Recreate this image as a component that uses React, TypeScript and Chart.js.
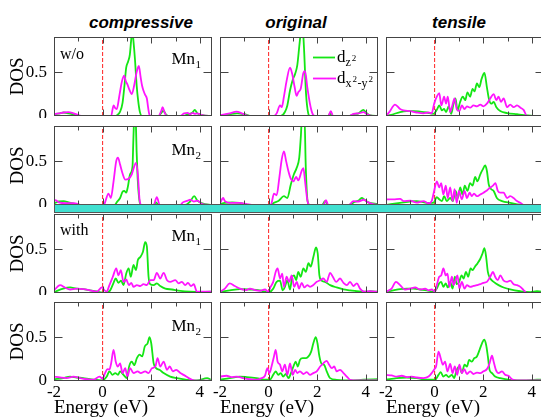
import React, { useEffect, useRef } from 'react';
import { Chart, registerables } from 'chart.js';

Chart.register(...registerables);

type Pair = [number, number];

// ---------- axis / tick definitions ----------
const X_MIN = -2;
const X_MAX = 4.5;
const Y_MIN = 0;
const Y_MAX = 0.9;
const X_LABEL_TICKS = [-2, 0, 2, 4];
const X_MARK_TICKS = [-1, 0, 1, 2, 3, 4];
const Y_LABEL_TICKS = [0, 0.5];
const Y_MARK_TICKS = [0.5];
const COLUMN_TITLES = ['compressive', 'original', 'tensile'];
const SERIES_NAMES = ['d_z2', 'd_x2-y2'];

// ---------- data: [energy (eV), DOS] ----------
// compressive, w/o, Mn1
const CW_M1_Z: Pair[] = [[-2,0.02],[-1.75,0.03],[-1.6,0.04],[-1.4,0.03],[-1.1,0.01],[-0.9,0],[0.5,0],[0.6,0.01],[0.72,0.05],[0.82,0.15],[0.9,0.35],[0.97,0.55],[1.05,0.62],[1.12,0.7],[1.17,0.85],[1.22,0.98],[1.27,0.85],[1.33,0.65],[1.4,0.35],[1.46,0.18],[1.53,0.05],[1.62,0],[2.3,0],[2.4,0.03],[2.5,0.06],[2.6,0.02],[2.7,0],[3.3,0],[3.5,0.02],[3.7,0.04],[3.79,0.07],[3.9,0.03],[4.1,0.01],[4.5,0]];
const CW_M1_X: Pair[] = [[-2,0.02],[-1.8,0.03],[-1.6,0.04],[-1.4,0.045],[-1.2,0.03],[-1.0,0.01],[-0.85,0],[0.35,0],[0.45,0.12],[0.52,0.09],[0.58,0.08],[0.7,0.25],[0.8,0.4],[0.89,0.46],[0.95,0.4],[1.02,0.36],[1.1,0.3],[1.2,0.25],[1.3,0.35],[1.4,0.5],[1.49,0.57],[1.56,0.45],[1.62,0.35],[1.68,0.29],[1.75,0.24],[1.82,0.2],[1.87,0.1],[1.92,0.02],[2.0,0],[2.3,0],[2.4,0.05],[2.47,0.1],[2.55,0.04],[2.65,0],[3.2,0],[3.35,0.03],[3.5,0.035],[3.6,0.02],[3.7,0.035],[3.8,0.025],[3.9,0.03],[4.0,0.02],[4.1,0.01],[4.5,0]];
// compressive, w/o, Mn2
const CW_M2_Z: Pair[] = [[-2,0.02],[-1.8,0.04],[-1.6,0.045],[-1.4,0.03],[-1.1,0.01],[-0.9,0],[0.5,0],[0.58,0.03],[0.72,0.08],[0.82,0.15],[0.89,0.16],[0.97,0.14],[1.04,0.21],[1.13,0.35],[1.23,0.44],[1.26,0.7],[1.29,0.95],[1.32,1.1],[1.36,1.0],[1.4,0.6],[1.44,0.31],[1.5,0.08],[1.55,0],[2.1,0],[2.2,0.03],[2.3,0],[3.4,0],[3.6,0.04],[3.77,0.1],[3.9,0.05],[4.1,0.02],[4.5,0]];
const CW_M2_X: Pair[] = [[-2,0.06],[-1.9,0.05],[-1.8,0.03],[-1.5,0.02],[-1.2,0.02],[-1.0,0.01],[-0.9,0],[0.05,0],[0.1,0.03],[0.24,0.13],[0.34,0.08],[0.45,0.27],[0.56,0.5],[0.63,0.54],[0.72,0.46],[0.83,0.35],[0.93,0.29],[1.07,0.3],[1.2,0.35],[1.3,0.44],[1.37,0.48],[1.45,0.35],[1.52,0.06],[1.6,0],[2.1,0],[2.23,0.09],[2.35,0],[3.2,0],[3.3,0.03],[3.5,0.05],[3.6,0.06],[3.75,0.04],[3.9,0.05],[4.1,0.01],[4.5,0]];
// original, w/o, Mn1
const CO_M1_Z: Pair[] = [[-2,0.005],[-1.6,0.02],[-1.3,0.03],[-1.0,0.02],[-0.7,0],[0.5,0],[0.67,0.045],[0.77,0.12],[0.88,0.29],[0.99,0.41],[1.09,0.48],[1.18,0.58],[1.26,0.79],[1.32,0.95],[1.37,1.05],[1.42,0.95],[1.46,0.75],[1.54,0.25],[1.63,0.03],[1.7,0],[2.45,0],[2.53,0.03],[2.6,0],[3.3,0],[3.5,0.02],[3.7,0.03],[3.9,0.07],[4.0,0.04],[4.15,0.01],[4.5,0]];
const CO_M1_X: Pair[] = [[-2,0.01],[-1.6,0.03],[-1.32,0.05],[-1.1,0.03],[-0.8,0],[0.2,0],[0.33,0.03],[0.47,0.12],[0.54,0.1],[0.63,0.22],[0.74,0.4],[0.88,0.55],[0.97,0.48],[1.07,0.33],[1.15,0.23],[1.22,0.27],[1.32,0.31],[1.43,0.49],[1.5,0.51],[1.59,0.33],[1.7,0.14],[1.8,0.03],[1.9,0],[2.45,0],[2.56,0.056],[2.65,0],[3.3,0],[3.49,0.025],[3.7,0.03],[3.9,0.045],[4.05,0.02],[4.2,0.005],[4.5,0]];
// original, w/o, Mn2
const CO_M2_Z: Pair[] = [[-2,0.01],[-1.8,0.025],[-1.5,0.03],[-1.2,0.025],[-0.8,0],[0.1,0],[0.19,0.02],[0.4,0.045],[0.63,0.1],[0.77,0.08],[0.91,0.23],[1.04,0.35],[1.15,0.42],[1.26,0.54],[1.33,0.8],[1.38,1.05],[1.47,1.05],[1.53,0.42],[1.6,0.05],[1.68,0],[2.2,0],[2.32,0.045],[2.45,0],[3.3,0],[3.5,0.03],[3.7,0.05],[3.83,0.08],[3.95,0.06],[4.1,0.03],[4.5,0.01]];
const CO_M2_X: Pair[] = [[-2,0.02],[-1.87,0.08],[-1.8,0.045],[-1.6,0.025],[-1.2,0.025],[-0.9,0.01],[-0.7,0],[0.05,0],[0.12,0.02],[0.22,0.13],[0.33,0.11],[0.44,0.31],[0.54,0.52],[0.63,0.61],[0.72,0.5],[0.81,0.39],[0.91,0.3],[1.02,0.27],[1.13,0.32],[1.22,0.28],[1.36,0.39],[1.43,0.42],[1.5,0.27],[1.6,0.045],[1.68,0],[2.25,0],[2.36,0.055],[2.45,0],[3.3,0],[3.49,0.045],[3.7,0.04],[3.9,0.06],[4.1,0.03],[4.3,0.01],[4.5,0]];
// tensile, w/o, Mn1
const CT_M1_Z: Pair[] = [[-2,0],[-1.7,0.02],[-1.42,0.045],[-1.15,0.056],[-0.87,0.056],[-0.6,0.05],[-0.32,0.04],[-0.05,0.025],[0.09,0.07],[0.19,0.12],[0.3,0.065],[0.39,0.08],[0.47,0.045],[0.58,0.11],[0.68,0.025],[0.78,0.14],[0.86,0.2],[0.94,0.065],[1.05,0.16],[1.16,0.22],[1.26,0.18],[1.35,0.27],[1.46,0.22],[1.56,0.31],[1.64,0.28],[1.74,0.37],[1.84,0.33],[1.93,0.42],[2.05,0.49],[2.15,0.33],[2.23,0.2],[2.33,0.14],[2.43,0.16],[2.54,0.1],[2.7,0.056],[2.98,0.034],[3.39,0.02],[3.8,0.007],[4.2,0],[4.5,0]];
const CT_M1_X: Pair[] = [[-2,0],[-1.85,0.05],[-1.63,0.13],[-1.42,0.08],[-1.28,0.065],[-1.0,0.055],[-0.74,0.04],[-0.46,0.03],[-0.25,0.04],[-0.12,0.03],[-0.02,0.14],[0.09,0.22],[0.19,0.26],[0.28,0.12],[0.39,0.22],[0.47,0.14],[0.54,0.22],[0.64,0.045],[0.72,0.11],[0.82,0.2],[0.91,0.08],[1.02,0.056],[1.12,0.12],[1.23,0.08],[1.33,0.11],[1.46,0.095],[1.6,0.12],[1.74,0.11],[1.88,0.13],[2.01,0.11],[2.15,0.14],[2.29,0.2],[2.43,0.25],[2.54,0.18],[2.63,0.22],[2.73,0.16],[2.84,0.2],[2.98,0.1],[3.11,0.13],[3.25,0.1],[3.39,0.12],[3.53,0.095],[3.66,0.07],[3.8,0],[4.5,0]];
// tensile, w/o, Mn2
const CT_M2_Z: Pair[] = [[-2,0],[-1.42,0.025],[-0.74,0.045],[-0.3,0.025],[-0.05,0.025],[0.09,0.09],[0.19,0.065],[0.3,0.045],[0.39,0.1],[0.5,0.045],[0.64,0.08],[0.75,0.045],[0.86,0.16],[0.96,0.08],[1.05,0.2],[1.15,0.12],[1.24,0.22],[1.35,0.16],[1.46,0.25],[1.56,0.22],[1.67,0.32],[1.76,0.27],[1.88,0.35],[1.97,0.4],[2.08,0.45],[2.15,0.39],[2.23,0.23],[2.33,0.18],[2.43,0.16],[2.56,0.08],[2.77,0.045],[3.11,0.025],[3.7,0],[4.5,0]];
const CT_M2_X: Pair[] = [[-2,0.065],[-1.7,0.065],[-1.42,0.07],[-1.28,0.045],[-1.0,0.05],[-0.74,0.026],[-0.46,0.045],[-0.25,0.02],[-0.12,0.045],[-0.02,0.16],[0.09,0.27],[0.19,0.2],[0.27,0.25],[0.36,0.12],[0.46,0.22],[0.54,0.08],[0.64,0.2],[0.74,0.045],[0.82,0.18],[0.91,0.025],[1.0,0.16],[1.12,0.065],[1.23,0.16],[1.33,0.08],[1.44,0.14],[1.53,0.1],[1.62,0.13],[1.74,0.1],[1.88,0.12],[2.01,0.14],[2.15,0.165],[2.29,0.2],[2.4,0.22],[2.5,0.25],[2.6,0.16],[2.7,0.14],[2.84,0.14],[2.98,0.08],[3.11,0.1],[3.25,0.08],[3.39,0.045],[3.53,0.025],[3.66,0],[4.5,0]];
// compressive, with, Mn1
const CI_M1_Z: Pair[] = [[-2,0.01],[-1.62,0.05],[-1.34,0.063],[-1.07,0.05],[-0.79,0.045],[-0.52,0.03],[-0.17,0.014],[0.1,0],[0.31,0.03],[0.45,0.116],[0.54,0.165],[0.65,0.116],[0.76,0.14],[0.86,0.09],[0.97,0.22],[1.07,0.28],[1.16,0.185],[1.27,0.32],[1.37,0.26],[1.45,0.375],[1.55,0.41],[1.66,0.47],[1.75,0.58],[1.82,0.53],[1.89,0.185],[1.96,0.1],[2.1,0.09],[2.23,0.11],[2.37,0.08],[2.58,0.05],[2.85,0.04],[3.2,0.025],[3.61,0.015],[4.02,0.01],[4.43,0.014],[4.5,0.01]];
const CI_M1_X: Pair[] = [[-2,0.03],[-1.75,0.09],[-1.55,0.063],[-1.34,0.04],[-1.07,0.05],[-0.79,0.045],[-0.52,0.03],[-0.24,0.014],[-0.03,0.063],[0.08,0.03],[0.17,0.018],[0.28,0.09],[0.42,0.185],[0.56,0.28],[0.65,0.2],[0.75,0.26],[0.86,0.127],[0.97,0.155],[1.08,0.09],[1.18,0.116],[1.27,0.07],[1.41,0.09],[1.55,0.08],[1.68,0.1],[1.82,0.09],[1.96,0.146],[2.1,0.146],[2.23,0.23],[2.37,0.165],[2.51,0.23],[2.65,0.146],[2.78,0.127],[2.99,0.146],[3.13,0.11],[3.26,0.127],[3.4,0.09],[3.51,0.116],[3.64,0.08],[3.75,0.1],[3.88,0.014],[4.16,0.014],[4.5,0.014]];
// compressive, with, Mn2
const CI_M2_Z: Pair[] = [[-2,0.02],[-1.62,0.033],[-1.34,0.05],[-1.07,0.04],[-0.79,0.033],[-0.52,0.02],[-0.24,0.014],[0.0,0.006],[0.17,0.05],[0.28,0.11],[0.41,0.07],[0.52,0.09],[0.63,0.07],[0.72,0.11],[0.86,0.07],[1.0,0.033],[1.09,0.165],[1.2,0.22],[1.3,0.18],[1.41,0.26],[1.52,0.3],[1.63,0.28],[1.73,0.39],[1.85,0.43],[1.93,0.5],[2.0,0.43],[2.1,0.2],[2.2,0.146],[2.34,0.127],[2.51,0.09],[2.78,0.05],[3.06,0.033],[3.47,0.014],[3.88,0.006],[4.3,0.033],[4.45,0.014]];
const CI_M2_X: Pair[] = [[-2,0.05],[-1.75,0.04],[-1.48,0.033],[-1.2,0.05],[-0.93,0.033],[-0.65,0.02],[-0.38,0.014],[-0.13,0.05],[0.0,0.025],[0.1,0.09],[0.2,0.135],[0.28,0.13],[0.35,0.2],[0.45,0.355],[0.54,0.22],[0.63,0.165],[0.72,0.2],[0.82,0.09],[0.93,0.146],[1.02,0.05],[1.13,0.146],[1.27,0.09],[1.44,0.11],[1.57,0.09],[1.75,0.11],[1.89,0.09],[2.03,0.146],[2.17,0.165],[2.26,0.26],[2.37,0.165],[2.51,0.22],[2.65,0.127],[2.76,0.165],[2.89,0.11],[3.03,0.127],[3.2,0.09],[3.33,0.07],[3.54,0.033],[3.68,0.014],[3.88,0.003],[4.5,0.003]];
// original, with, Mn1
const OI_M1_Z: Pair[] = [[-2,0.014],[-1.6,0.03],[-1.18,0.045],[-0.77,0.04],[-0.36,0.03],[-0.01,0.006],[0.19,0.05],[0.33,0.127],[0.47,0.14],[0.58,0.03],[0.67,0.07],[0.77,0.146],[0.88,0.04],[0.97,0.185],[1.05,0.2],[1.13,0.146],[1.22,0.24],[1.32,0.185],[1.43,0.28],[1.53,0.24],[1.64,0.34],[1.73,0.3],[1.84,0.41],[1.95,0.52],[2.02,0.45],[2.09,0.2],[2.18,0.14],[2.32,0.127],[2.53,0.09],[2.8,0.063],[3.08,0.04],[3.35,0.03],[3.63,0.02],[4.04,0.014],[4.18,0.02],[4.5,0.014]];
const OI_M1_X: Pair[] = [[-2,0.014],[-1.8,0.05],[-1.6,0.11],[-1.39,0.08],[-1.18,0.05],[-0.91,0.033],[-0.77,0.05],[-0.56,0.033],[-0.36,0.025],[-0.15,0.04],[-0.01,0.014],[0.08,0.07],[0.19,0.127],[0.29,0.24],[0.37,0.28],[0.47,0.165],[0.56,0.22],[0.63,0.07],[0.74,0.185],[0.84,0.127],[0.95,0.2],[1.05,0.07],[1.16,0.127],[1.25,0.05],[1.36,0.116],[1.47,0.063],[1.59,0.09],[1.7,0.07],[1.84,0.09],[1.98,0.127],[2.12,0.146],[2.25,0.165],[2.39,0.127],[2.53,0.23],[2.64,0.185],[2.78,0.127],[2.94,0.165],[3.08,0.116],[3.22,0.09],[3.35,0.127],[3.49,0.08],[3.63,0.11],[3.76,0.05],[3.93,0.014],[4.18,0.02],[4.5,0.014]];
// original, with, Mn2
const OI_M2_Z: Pair[] = [[-2,0.014],[-1.6,0.033],[-1.18,0.05],[-0.9,0.045],[-0.5,0.033],[-0.1,0.014],[0.05,0.014],[0.19,0.07],[0.29,0.11],[0.4,0.07],[0.5,0.09],[0.6,0.05],[0.71,0.08],[0.82,0.033],[0.92,0.09],[1.02,0.165],[1.11,0.22],[1.2,0.165],[1.29,0.24],[1.4,0.26],[1.54,0.26],[1.64,0.28],[1.75,0.335],[1.84,0.43],[1.94,0.5],[2.01,0.43],[2.09,0.28],[2.18,0.195],[2.28,0.185],[2.39,0.11],[2.53,0.033],[2.8,0.014],[3.35,0.006],[3.9,0.014],[4.5,0.02]];
const OI_M2_X: Pair[] = [[-2,0.05],[-1.73,0.06],[-1.53,0.045],[-1.32,0.05],[-1.05,0.033],[-0.77,0.02],[-0.5,0.014],[-0.29,0.033],[-0.15,0.06],[-0.05,0.146],[0.03,0.09],[0.12,0.165],[0.22,0.28],[0.29,0.355],[0.37,0.22],[0.47,0.185],[0.56,0.11],[0.67,0.185],[0.77,0.07],[0.88,0.2],[0.99,0.07],[1.09,0.127],[1.18,0.09],[1.29,0.11],[1.43,0.08],[1.57,0.1],[1.7,0.07],[1.84,0.09],[1.98,0.11],[2.12,0.165],[2.25,0.2],[2.39,0.23],[2.49,0.185],[2.6,0.146],[2.7,0.165],[2.8,0.11],[2.94,0.127],[3.08,0.09],[3.22,0.05],[3.35,0.014],[3.63,0.006],[4.5,0.006]];
// tensile, with, Mn1
const TI_M1_Z: Pair[] = [[-2,0.014],[-1.7,0.03],[-1.42,0.045],[-1.15,0.05],[-0.87,0.05],[-0.6,0.04],[-0.32,0.03],[-0.05,0.014],[0.09,0.05],[0.19,0.11],[0.27,0.127],[0.36,0.07],[0.46,0.11],[0.54,0.063],[0.64,0.127],[0.74,0.05],[0.83,0.185],[0.91,0.1],[1.01,0.127],[1.11,0.2],[1.19,0.165],[1.29,0.24],[1.38,0.185],[1.48,0.28],[1.56,0.26],[1.66,0.3],[1.77,0.34],[1.88,0.39],[1.97,0.45],[2.05,0.51],[2.12,0.41],[2.19,0.24],[2.29,0.165],[2.43,0.127],[2.63,0.09],[2.84,0.063],[3.11,0.04],[3.53,0.02],[3.94,0.01],[4.21,0.02],[4.5,0.014]];
const TI_M1_X: Pair[] = [[-2,0.014],[-1.77,0.05],[-1.59,0.127],[-1.42,0.09],[-1.22,0.04],[-1.0,0.05],[-0.8,0.063],[-0.6,0.04],[-0.39,0.05],[-0.25,0.03],[-0.12,0.04],[0.02,0.014],[0.09,0.09],[0.19,0.185],[0.27,0.2],[0.36,0.28],[0.46,0.2],[0.53,0.22],[0.61,0.07],[0.71,0.185],[0.78,0.09],[0.86,0.146],[0.94,0.2],[1.02,0.05],[1.12,0.127],[1.23,0.05],[1.33,0.09],[1.46,0.07],[1.6,0.08],[1.74,0.09],[1.88,0.1],[2.01,0.116],[2.15,0.127],[2.29,0.185],[2.4,0.24],[2.49,0.185],[2.6,0.146],[2.7,0.2],[2.84,0.14],[2.98,0.127],[3.11,0.14],[3.25,0.1],[3.39,0.09],[3.53,0.07],[3.66,0.033],[3.8,0],[4.5,0.003]];
// tensile, with, Mn2
const TI_M2_Z: Pair[] = [[-2,0.014],[-1.56,0.033],[-1.15,0.04],[-0.74,0.033],[-0.32,0.014],[0.02,0.014],[0.16,0.07],[0.25,0.1],[0.36,0.05],[0.47,0.07],[0.58,0.045],[0.71,0.07],[0.8,0.033],[0.91,0.127],[1.02,0.165],[1.12,0.09],[1.23,0.185],[1.33,0.165],[1.42,0.24],[1.53,0.22],[1.63,0.26],[1.74,0.28],[1.85,0.355],[1.95,0.43],[2.04,0.47],[2.12,0.41],[2.19,0.28],[2.26,0.127],[2.36,0.09],[2.49,0.05],[2.7,0.033],[3.11,0.014],[3.66,0.006],[4.21,0.014],[4.5,0.014]];
const TI_M2_X: Pair[] = [[-2,0.07],[-1.77,0.063],[-1.56,0.05],[-1.35,0.06],[-1.15,0.045],[-0.94,0.05],[-0.74,0.04],[-0.46,0.033],[-0.25,0.05],[-0.12,0.09],[-0.01,0.135],[0.06,0.165],[0.16,0.335],[0.25,0.26],[0.34,0.185],[0.43,0.22],[0.53,0.11],[0.64,0.195],[0.74,0.09],[0.83,0.165],[0.93,0.07],[1.02,0.185],[1.12,0.09],[1.22,0.135],[1.33,0.08],[1.46,0.11],[1.6,0.08],[1.74,0.095],[1.88,0.09],[2.01,0.11],[2.15,0.135],[2.26,0.2],[2.36,0.29],[2.43,0.22],[2.52,0.127],[2.63,0.09],[2.77,0.11],[2.91,0.07],[3.04,0.06],[3.18,0.02],[3.39,0.006],[4.5,0.006]];

// ---------- panel table ----------
const ROW_CORNER = ['w/o', '', 'with', ''];
const ROW_MN = ['1', '2', '1', '2'];
const GRID_Z: Pair[][][] = [
  [CW_M1_Z, CO_M1_Z, CT_M1_Z],
  [CW_M2_Z, CO_M2_Z, CT_M2_Z],
  [CI_M1_Z, OI_M1_Z, TI_M1_Z],
  [CI_M2_Z, OI_M2_Z, TI_M2_Z],
];
const GRID_X: Pair[][][] = [
  [CW_M1_X, CO_M1_X, CT_M1_X],
  [CW_M2_X, CO_M2_X, CT_M2_X],
  [CI_M1_X, OI_M1_X, TI_M1_X],
  [CI_M2_X, OI_M2_X, TI_M2_X],
];

// ---------- layout / style ----------
const PANEL_LEFT = [54, 220, 386];
const PANEL_TOP = [37, 126, 214, 302];
const PANEL_W = 158;
const PANEL_H = 79;
const GREEN = '#14e614';
const MAGENTA = '#ff14ff';
const FRAME = '#444';
const LINE_W = 1.8;
const SERIF = "'Liberation Serif', 'Times New Roman', serif";
const SANS = "'Liberation Sans', Arial, sans-serif";

const toPts = (a: Pair[]) => a.map(([x, y]) => ({ x, y }));

const framePlugin = {
  id: 'frame',
  afterDatasetsDraw(chart: any, _args: any, o: any) {
    const { ctx, chartArea: a, scales } = chart;
    const xs = scales.x;
    const ys = scales.y;
    const L = Math.round(a.left) + 0.5;
    const R = Math.round(a.right) - 0.5;
    const T = Math.round(a.top) + 0.5;
    const B = Math.round(a.bottom) - 0.5;
    ctx.save();
    ctx.strokeStyle = FRAME;
    ctx.lineWidth = 1;
    ctx.strokeRect(L, T, R - L, B - T);
    ctx.beginPath();
    X_MARK_TICKS.forEach((v) => {
      const px = Math.round(xs.getPixelForValue(v)) + 0.5;
      const len = v % 2 === 0 ? 6 : 4;
      ctx.moveTo(px, T); ctx.lineTo(px, T + len);
      ctx.moveTo(px, B); ctx.lineTo(px, B - len);
    });
    Y_MARK_TICKS.forEach((v) => {
      const py = Math.round(ys.getPixelForValue(v)) + 0.5;
      ctx.moveTo(L, py); ctx.lineTo(L + 8, py);
      ctx.moveTo(R, py); ctx.lineTo(R - 8, py);
    });
    ctx.stroke();

    ctx.fillStyle = '#000';
    ctx.textAlign = 'left';
    ctx.textBaseline = 'alphabetic';
    if (o.corner) {
      ctx.font = `16px ${SERIF}`;
      ctx.fillText(o.corner, a.left + 6, a.top + (o.corner === 'w/o' ? 22 : 21));
    }
    if (o.mn) {
      const base = a.top + (o.mn === '1' ? 26.5 : 29);
      ctx.font = `17px ${SERIF}`;
      const mx = a.right - 40.5;
      ctx.fillText('Mn', mx, base);
      const w = ctx.measureText('Mn').width;
      ctx.font = `11px ${SERIF}`;
      ctx.fillText(o.mn, mx + w + 0.5, base + 4);
    }
    if (o.legend) {
      const lx = a.left;
      const ty = a.top;
      ctx.lineWidth = LINE_W;
      ctx.strokeStyle = GREEN;
      ctx.beginPath(); ctx.moveTo(lx + 93, ty + 20.5); ctx.lineTo(lx + 115, ty + 20.5); ctx.stroke();
      ctx.strokeStyle = MAGENTA;
      ctx.beginPath(); ctx.moveTo(lx + 93, ty + 41.5); ctx.lineTo(lx + 116, ty + 41.5); ctx.stroke();
      const dx = lx + 117;
      ctx.font = `17px ${SERIF}`;
      ctx.fillText('d', dx, ty + 25);
      ctx.fillText('d', dx, ty + 46);
      const dw = ctx.measureText('d').width;
      // d_{z^2}
      ctx.font = `12px ${SERIF}`;
      ctx.fillText('z', dx + dw, ty + 29);
      const zw = ctx.measureText('z').width;
      ctx.font = `9px ${SERIF}`;
      ctx.fillText('2', dx + dw + zw + 1, ty + 23.5);
      // d_{x^2-y^2}
      let cx = dx + dw;
      const sb = ty + 50;
      const sp = ty + 44.5;
      ctx.font = `12px ${SERIF}`;
      ctx.fillText('x', cx, sb); cx += ctx.measureText('x').width + 1;
      ctx.font = `9px ${SERIF}`;
      ctx.fillText('2', cx, sp); cx += ctx.measureText('2').width + 0.5;
      ctx.font = `12px ${SERIF}`;
      ctx.fillText('-', cx, sb); cx += ctx.measureText('-').width;
      ctx.fillText('y', cx, sb); cx += ctx.measureText('y').width + 1;
      ctx.font = `9px ${SERIF}`;
      ctx.fillText('2', cx, sp);
    }
    ctx.restore();
  },
};

function Panel({ row, col }: { row: number; col: number }) {
  const ref = useRef<HTMLCanvasElement>(null);
  const leftExtra = col === 0 ? 54 : row === 3 ? 12 : 2;
  const bottomExtra = row === 3 ? 37 : 2;
  const topExtra = 2;
  const rightExtra = 2;
  const w = PANEL_W + leftExtra + rightExtra;
  const h = PANEL_H + topExtra + bottomExtra;
  const left = PANEL_LEFT[col] - leftExtra;
  const top = PANEL_TOP[row] - topExtra;

  useEffect(() => {
    const canvas = ref.current!;
    const chart = new Chart(canvas, {
      type: 'line',
      data: {
        datasets: [
          {
            label: SERIES_NAMES[1],
            data: toPts(GRID_X[row][col]),
            borderColor: MAGENTA,
            borderWidth: LINE_W,
            pointRadius: 0,
            cubicInterpolationMode: 'monotone',
            clip: 0,
          },
          {
            label: SERIES_NAMES[0],
            data: toPts(GRID_Z[row][col]),
            borderColor: GREEN,
            borderWidth: LINE_W,
            pointRadius: 0,
            cubicInterpolationMode: 'monotone',
            clip: 0,
          },
          {
            label: 'EF',
            data: [{ x: 0, y: Y_MIN }, { x: 0, y: Y_MAX }],
            borderColor: '#f22',
            borderWidth: 1,
            borderDash: [4, 2],
            pointRadius: 0,
            clip: 0,
          },
        ],
      },
      options: {
        responsive: false,
        animation: false,
        events: [],
        layout: { padding: { top: topExtra, right: rightExtra, left: 0, bottom: 0 } },
        plugins: {
          legend: { display: false },
          tooltip: { enabled: false },
          frame: {
            corner: col === 0 ? ROW_CORNER[row] : '',
            mn: col === 0 ? ROW_MN[row] : '',
            legend: row === 0 && col === 1,
          },
        } as any,
        scales: {
          x: {
            type: 'linear',
            min: X_MIN,
            max: X_MAX,
            grid: { display: false, drawTicks: false },
            border: { display: false },
            ticks: {
              display: row === 3,
              autoSkip: false,
              maxRotation: 0,
              padding: 1,
              color: '#000',
              font: { family: SERIF, size: 17 },
              callback: (v: any) => String(v),
            },
            title: {
              display: row === 3,
              text: 'Energy (eV)',
              align: 'start',
              color: '#000',
              font: { family: SERIF, size: 19, lineHeight: 1 },
              padding: { top: 0, bottom: 0 },
            },
            afterBuildTicks: (s: any) => { s.ticks = X_LABEL_TICKS.map((v) => ({ value: v })); },
            afterFit: (s: any) => { s.height = bottomExtra; s.paddingLeft = 0; s.paddingRight = 0; s.paddingTop = 0; s.paddingBottom = 0; },
          },
          y: {
            type: 'linear',
            min: Y_MIN,
            max: Y_MAX,
            grid: { display: false, drawTicks: false },
            border: { display: false },
            ticks: {
              display: col === 0,
              padding: 7,
              color: '#000',
              font: { family: SERIF, size: 17 },
              callback: (v: any) => String(v),
            },
            title: {
              display: col === 0,
              text: 'DOS',
              color: '#000',
              font: { family: SERIF, size: 19, lineHeight: 1.2 },
              padding: { top: 7, bottom: 0 },
            },
            afterBuildTicks: (s: any) => { s.ticks = Y_LABEL_TICKS.map((v) => ({ value: v })); },
            afterFit: (s: any) => { s.width = leftExtra; s.paddingLeft = 0; s.paddingRight = 0; s.paddingTop = 0; s.paddingBottom = 0; },
          },
        },
      } as any,
      plugins: [framePlugin as any],
    });
    return () => chart.destroy();
  }, []);

  return (
    <canvas
      ref={ref}
      width={w}
      height={h}
      style={{ position: 'absolute', left, top, width: w, height: h }}
    />
  );
}

const TITLE_CX = [141, 296, 459];

export default function App() {
  const rows = [0, 1, 2, 3];
  const cols = [0, 1, 2];
  return (
    <div style={{ position: 'fixed', left: 0, top: 0, width: 541, height: 418, background: '#fff', overflow: 'hidden' }}>
      {COLUMN_TITLES.map((t, i) => (
        <div
          key={t}
          style={{
            position: 'absolute',
            left: TITLE_CX[i] - 100,
            width: 200,
            top: 13,
            lineHeight: '20px',
            textAlign: 'center',
            fontFamily: SANS,
            fontWeight: 'bold',
            fontStyle: 'italic',
            fontSize: 17,
            color: '#000',
          }}
        >
          {t}
        </div>
      ))}
      {rows.map((r) => cols.map((c) => <Panel key={`${r}-${c}`} row={r} col={c} />))}
      <div
        style={{
          position: 'absolute',
          left: 54,
          top: 204,
          width: 500,
          height: 9,
          boxSizing: 'border-box',
          background: '#40E0D0',
          border: '1px solid #555',
        }}
      />
    </div>
  );
}
